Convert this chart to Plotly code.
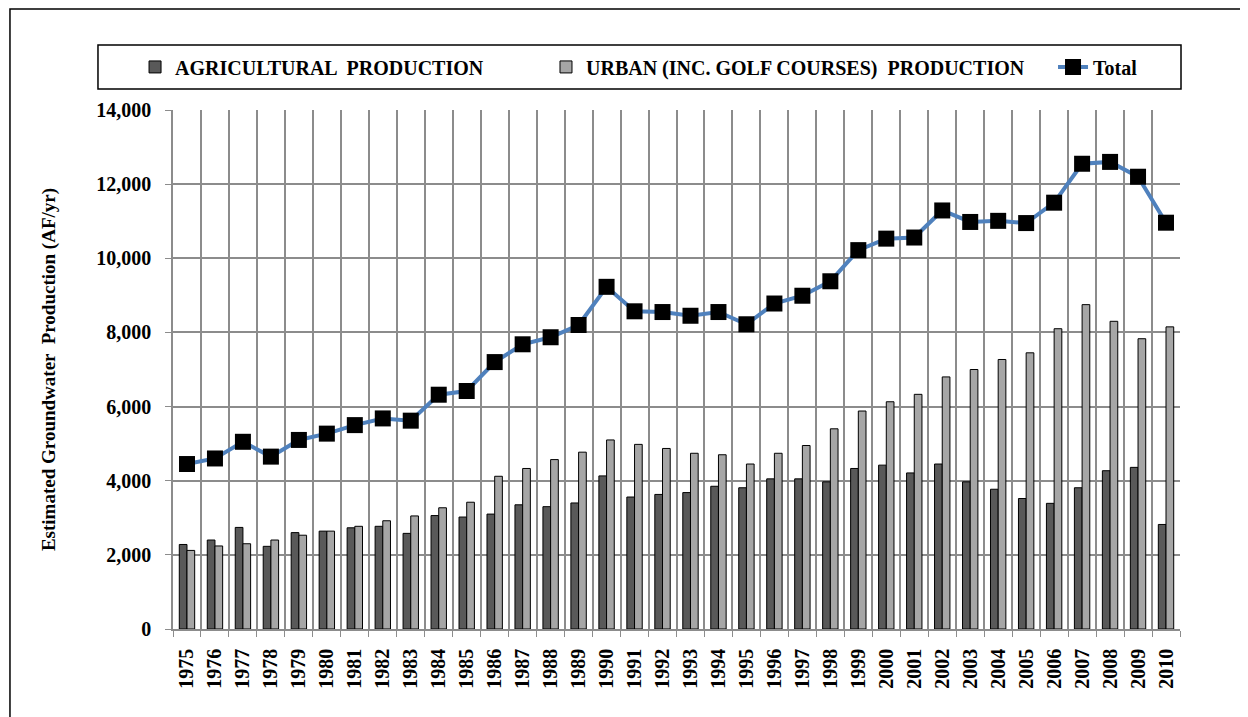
import plotly.graph_objects as go

years = [str(y) for y in range(1975, 2011)]

agricultural = [2280, 2400, 2740, 2230, 2600, 2640, 2730, 2770, 2580, 3060,
                3020, 3100, 3350, 3300, 3400, 4130, 3560, 3630, 3680, 3850,
                3810, 4050, 4050, 3970, 4330, 4420, 4210, 4450, 3970, 3770,
                3520, 3390, 3810, 4270, 4360, 2820]

urban = [2120, 2240, 2300, 2400, 2530, 2640, 2770, 2920, 3050, 3270,
         3420, 4120, 4330, 4570, 4770, 5100, 4980, 4870, 4740, 4700,
         4450, 4740, 4950, 5400, 5880, 6130, 6330, 6800, 7000, 7270,
         7450, 8100, 8750, 8300, 7830, 8150]

total = [4450, 4600, 5050, 4650, 5100, 5270, 5500, 5680, 5620, 6320,
         6420, 7200, 7680, 7870, 8200, 9230, 8570, 8550, 8450, 8550,
         8220, 8780, 8990, 9380, 10220, 10530, 10560, 11290, 10980, 11010,
         10950, 11500, 12550, 12600, 12200, 10960]

FONT = "Times New Roman, Liberation Serif, serif"
GRID = "#8c8c8c"

fig = go.Figure()

fig.add_trace(go.Bar(
    x=years, y=agricultural,
    name="<b>AGRICULTURAL  PRODUCTION</b>",
    marker=dict(color="#595959", line=dict(color="black", width=1)),
    legend="legend",
    showlegend=True,
))

fig.add_trace(go.Bar(
    x=years, y=urban,
    name="<b>URBAN (INC. GOLF COURSES)  PRODUCTION</b>",
    marker=dict(color="#a6a6a6", line=dict(color="black", width=1)),
    legend="legend2",
    showlegend=True,
))

fig.add_trace(go.Scatter(
    x=years, y=total,
    name="<b>Total</b>",
    mode="lines+markers",
    line=dict(color="#4f81bd", width=4),
    marker=dict(symbol="square", size=16, color="black",
                line=dict(color="black", width=0)),
    legend="legend3",
    showlegend=True,
))

fig.update_xaxes(
    type="category",
    range=[-0.5, len(years) - 0.5],
    tickson="boundaries",
    tickangle=-90,
    ticks="outside",
    ticklen=6,
    tickcolor=GRID,
    ticklabelstandoff=10,
    tickfont=dict(family=FONT, size=20, color="black", weight="bold"),
    showgrid=True,
    gridcolor=GRID,
    gridwidth=1.5,
    showline=True,
    linecolor=GRID,
    linewidth=1.5,
    mirror=False,
)

fig.update_yaxes(
    range=[0, 14000],
    dtick=2000,
    tickformat=",",
    ticks="outside",
    ticklen=6,
    tickcolor=GRID,
    ticklabelstandoff=10,
    tickfont=dict(family=FONT, size=20, color="black", weight="bold"),
    showgrid=True,
    gridcolor=GRID,
    gridwidth=1.5,
    showline=True,
    linecolor=GRID,
    linewidth=1.5,
    zeroline=False,
    title=dict(
        text="<b>Estimated Groundwater  Production (AF/yr)</b>",
        font=dict(family=FONT, size=19, color="black"),
        standoff=36,
    ),
)

legend_common = dict(
    orientation="h",
    yanchor="middle",
    y=1.083,
    xanchor="left",
    bgcolor="rgba(0,0,0,0)",
    borderwidth=0,
    font=dict(family=FONT, size=20, color="black"),
)

fig.update_layout(
    width=1240,
    height=709,
    showlegend=True,
    barmode="group",
    bargap=0.45,
    bargroupgap=0,
    plot_bgcolor="white",
    paper_bgcolor="white",
    margin=dict(l=165, r=68, t=102, b=88, autoexpand=False),
    legend=dict(x=-0.0377, **legend_common),
    legend2=dict(x=0.3704, **legend_common),
    legend3=dict(x=0.8739, **legend_common),
    shapes=[
        # legend frame
        dict(type="rect", xref="paper", yref="paper",
             x0=-0.0745, x1=1.001, y0=1.0405, y1=1.1252,
             line=dict(color="black", width=1.5)),
        # outer chart frame
        dict(type="rect", xref="paper", yref="paper",
             x0=-0.1619, x1=1.08, y0=-0.2, y1=1.1946,
             line=dict(color="black", width=1.5)),
    ],
)

fig.write_html("out.html")
